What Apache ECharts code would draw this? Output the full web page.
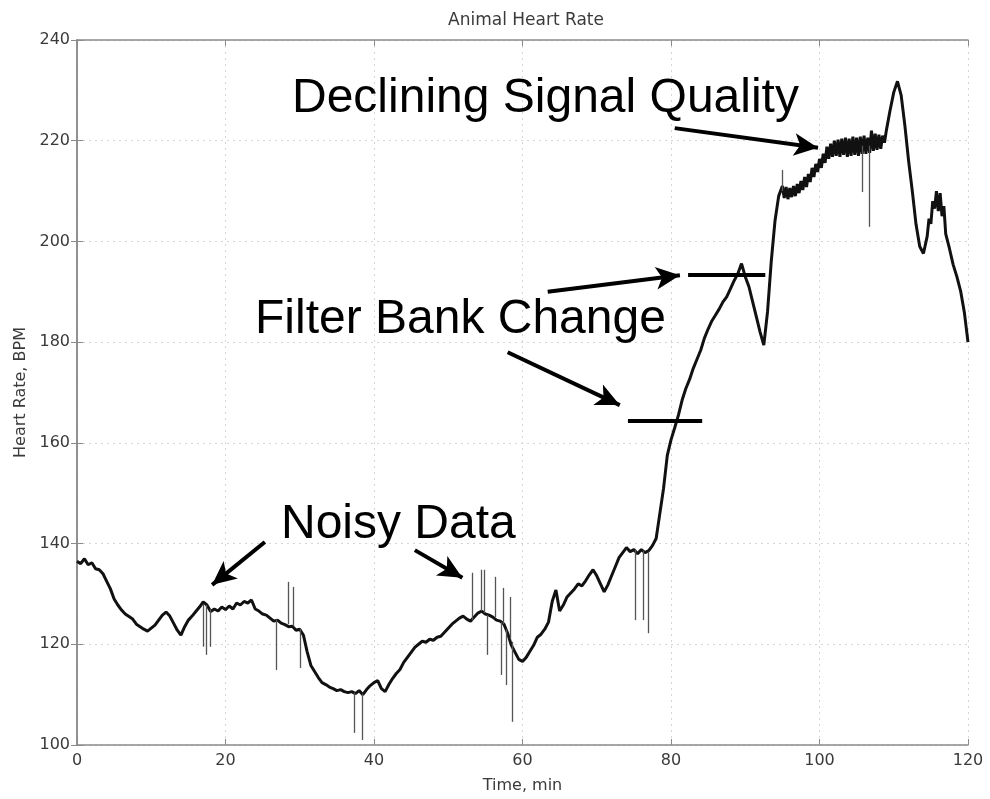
<!DOCTYPE html>
<html>
<head>
<meta charset="utf-8">
<script src="https://cdn.jsdelivr.net/npm/echarts@6/dist/echarts.min.js"></script>
<style>
html,body{margin:0;padding:0;background:#fff;}
#chart{width:990px;height:799px;}
</style>
</head>
<body>
<div id="chart"></div>
<script>
// ---- data ----
var timeMin = [0,0.5,1,1.5,2,2.5,3,3.5,4,4.5,5,5.5,6,6.5,7,7.5,8,8.5,9,9.5,10,10.5,11,11.5,12,12.5,13,13.5,14,14.5,15,15.5,16,16.5,17,17.5,18,18.5,19,19.5,20,20.5,21,21.5,22,22.5,23,23.5,24,24.5,25,25.5,26,26.5,27,27.5,28,28.5,29,29.5,30,30.5,31,31.5,32,32.5,33,33.5,34,34.5,35,35.5,36,36.5,37,37.5,38,38.5,39,39.5,40,40.5,41,41.5,42,42.5,43,43.5,44,44.5,45,45.5,46,46.5,47,47.5,48,48.5,49,49.5,50,50.5,51,51.5,52,52.5,53,53.5,54,54.5,55,55.5,56,56.5,57,57.5,58,58.5,59,59.5,60,60.5,61,61.5,62,62.5,63,63.5,64,64.5,65,65.5,66,66.5,67,67.5,68,68.5,69,69.5,70,70.5,71,71.5,72,72.5,73,73.5,74,74.5,75,75.5,76,76.5,77,77.5,78,78.5,79,79.5,80,80.5,81,81.5,82,82.5,83,83.5,84,84.5,85,85.5,86,86.5,87,87.5,88,88.5,89,89.5,90,90.5,91,91.5,92,92.5,93,93.5,94,94.5,
  95,95.25,95.5,95.75,96,96.25,96.5,96.75,97,97.25,97.5,97.75,98,98.25,98.5,98.75,99,99.25,99.5,99.75,100,100.25,100.5,100.75,101,101.25,101.5,101.75,102,102.25,102.5,102.75,103,103.25,103.5,103.75,104,104.25,104.5,104.75,105,105.25,105.5,105.75,106,106.25,106.5,106.75,107,107.25,107.5,107.75,108,108.25,108.5,108.75,109,
  109.5,110,110.5,111,111.5,112,112.5,113,113.5,114,
  114.5,114.75,115,115.25,115.5,115.75,116,116.25,116.5,116.75,117,
  117.5,118,118.5,119,119.5,120];
var heartRate = [136.5,136.0,137.0,135.8,136.2,135.0,134.8,134.0,132.5,131.0,129.0,127.8,126.8,126.0,125.5,125.0,124.0,123.5,123.0,122.6,123.2,123.8,124.8,125.8,126.4,125.6,124.2,122.8,121.8,123.5,124.8,125.6,126.5,127.4,128.4,127.8,126.5,127.0,126.6,127.4,126.9,127.6,127.0,128.2,127.8,128.5,128.2,128.8,127.0,126.6,126.0,125.8,125.2,124.6,124.8,124.2,123.9,123.5,123.6,122.8,123.0,121.8,118.5,115.8,114.6,113.4,112.4,112.0,111.5,111.2,110.8,111.0,110.6,110.4,110.6,110.2,110.8,110.0,111.0,111.8,112.4,112.8,111.2,110.6,112.0,113.2,114.2,115.0,116.4,117.4,118.4,119.4,120.0,120.6,120.4,121.0,120.8,121.4,121.6,122.4,123.2,124.0,124.6,125.2,125.6,125.0,124.6,125.4,126.2,126.6,126.0,125.8,125.4,124.8,124.6,124.0,122.2,119.8,118.4,117.0,116.6,117.4,118.6,119.8,121.4,122.0,123.0,124.4,128.5,130.8,126.6,127.8,129.4,130.2,131.0,132.0,131.6,132.6,133.8,134.8,133.6,132.0,130.4,131.8,133.6,135.4,137.2,138.2,139.2,138.4,138.8,138.0,138.8,138.2,138.6,139.6,141.0,146.0,151.0,157.5,160.6,163.0,165.5,168.5,170.8,172.6,174.8,176.6,178.4,180.8,182.6,184.2,185.4,186.6,188.0,189.0,190.6,192.2,193.6,195.6,193.0,191.0,188.0,185.0,182.0,179.4,186.0,196.0,204.0,209.0,
  211.0,208.6,210.8,208.4,210.6,208.8,211.0,209.0,211.4,209.6,212.0,210.2,212.8,210.8,213.4,211.8,214.6,212.8,215.4,213.8,216.4,214.6,217.4,215.6,218.8,216.4,219.4,216.8,220.0,217.0,220.2,216.8,220.4,217.2,220.6,216.8,220.4,217.0,220.8,217.2,220.6,217.0,220.8,217.4,221.0,217.4,220.6,217.6,222.0,218.0,221.4,218.2,221.2,218.4,221.0,219.6,222.0,
  226.0,229.6,231.8,229.0,223.0,216.0,210.0,203.4,199.0,197.6,
  201.0,204.5,203.5,208.0,206.5,210.0,206.0,209.6,205.0,207.0,201.5,
  198.6,195.4,193.0,190.2,186.0,180.0];
// brief artefact spikes (time, level before spike, spike tip)
var spikeTime = [17.0,17.4,17.9,26.9,28.4,29.1,30.0,37.4,38.4,53.2,54.5,54.9,55.2,56.3,57.1,57.4,57.8,58.3,58.6,75.2,76.2,76.9,95.0,105.7,106.7];
var spikeBase = [128.0,127.8,127.0,125.0,124.0,123.6,123.0,110.4,110.2,124.8,126.6,126.2,125.8,125.4,124.4,124.0,123.0,121.0,120.5,138.8,138.6,138.4,210.0,219.0,219.0];
var spikeTip  = [119.5,117.9,119.5,114.9,132.4,131.4,115.3,102.4,101.0,134.2,134.8,134.8,117.9,133.4,113.9,131.2,111.9,129.4,104.6,124.8,124.8,122.2,214.2,209.8,202.9];
var xTicks = [0,20,40,60,80,100,120];
var yTicks = [100,120,140,160,180,200,220,240];

// annotation arrows and bars (time, BPM)
var arrowFrom = [[80.5,222.5],[63.4,190.0],[58.0,178.0],[25.3,140.3],[45.5,138.7]];
var arrowTo   = [[99.8,218.6],[81.2,193.3],[73.1,167.5],[18.2,131.8],[51.9,133.2]];
var barFrom = [[82.3,193.3],[74.2,164.3]];
var barTo   = [[92.7,193.3],[84.2,164.3]];

var mainData = timeMin.map(function(t,i){return [t, heartRate[i]];});
var spikeLines = spikeTime.map(function(t,i){return [{coord:[t,spikeBase[i]]},{coord:[t,spikeTip[i]]}];});
var arrowLines = arrowFrom.map(function(p,i){return [{coord:p},{coord:arrowTo[i]}];});
var barLines = barFrom.map(function(p,i){return [{coord:p},{coord:barTo[i]}];});

var BIG = '"Liberation Sans", Arial, Helvetica, sans-serif';
var SMALL = '"DejaVu Sans", Verdana, sans-serif';
var axisCol = '#8a8a8a';
var txtCol = '#3a3a3a';

var chart = echarts.init(document.getElementById('chart'), null, {renderer:'canvas'});
chart.setOption({
  animation:false,
  backgroundColor:'#fff',
  title:{text:'Animal Heart Rate', left:521, textAlign:'center', top:7,
    textStyle:{fontFamily:SMALL, fontSize:17, fontWeight:'normal', color:txtCol}},
  grid:{left:77, right:22, top:40, bottom:54},
  xAxis:[{
    type:'value', min:xTicks[0], max:xTicks[xTicks.length-1], interval:20,
    name:'Time, min', nameLocation:'middle', nameGap:33,
    nameTextStyle:{fontFamily:SMALL, fontSize:16, color:txtCol},
    axisLine:{show:true, lineStyle:{color:axisCol, width:1.5}},
    axisTick:{show:true, inside:true, length:6, lineStyle:{color:axisCol}},
    axisLabel:{fontFamily:SMALL, fontSize:16, color:txtCol, margin:8},
    splitLine:{show:true, lineStyle:{color:'#d6d6d6', type:[2,4], width:1}}
  },{
    type:'value', position:'top', min:0, max:120, interval:20,
    axisLine:{show:true, lineStyle:{color:axisCol, width:1.5}},
    axisTick:{show:true, inside:true, length:6, lineStyle:{color:axisCol}},
    axisLabel:{show:false}, splitLine:{show:false}
  }],
  yAxis:[{
    type:'value', min:yTicks[0], max:yTicks[yTicks.length-1], interval:20,
    name:'Heart Rate, BPM', nameLocation:'middle', nameGap:48, nameRotate:90,
    nameTextStyle:{fontFamily:SMALL, fontSize:16, color:txtCol},
    axisLine:{show:true, lineStyle:{color:axisCol, width:1.5}},
    axisTick:{show:true, inside:true, length:6, lineStyle:{color:axisCol}},
    axisLabel:{fontFamily:SMALL, fontSize:16, color:txtCol, margin:7},
    splitLine:{show:true, lineStyle:{color:'#d6d6d6', type:[2,4], width:1}}
  },{
    type:'value', position:'right', min:100, max:240, interval:20,
    axisLine:{show:true, lineStyle:{color:axisCol, width:1.5}},
    axisTick:{show:true, inside:true, length:6, lineStyle:{color:axisCol}},
    axisLabel:{show:false}, splitLine:{show:false}
  }],
  series:[
    {
      name:'spikes', type:'line', data:[], silent:true,
      markLine:{silent:true, symbol:['none','none'], animation:false,
        label:{show:false},
        lineStyle:{color:'#555', width:1.3, type:'solid'},
        emphasis:{disabled:true},
        data:spikeLines}
    },
    {
      name:'Heart Rate', type:'line', data:mainData, showSymbol:false, symbol:'none',
      lineStyle:{color:'#111', width:3}, silent:true, z:3
    },
    {
      name:'annotations', type:'line', data:[], silent:true, z:5,
      markLine:{silent:true, symbol:['none','arrow'], symbolSize:[17,24], animation:false,
        label:{show:false}, emphasis:{disabled:true},
        lineStyle:{color:'#000', width:4, type:'solid'},
        data:arrowLines}
    },
    {
      name:'bars', type:'line', data:[], silent:true, z:5,
      markLine:{silent:true, symbol:['none','none'], animation:false,
        label:{show:false}, emphasis:{disabled:true},
        lineStyle:{color:'#000', width:4, type:'solid'},
        data:barLines}
    }
  ],
  graphic:[
    {type:'text', left:292, top:75, silent:true, z:10,
      style:{text:'Declining Signal Quality', font:'48px '+BIG, fill:'#000'}},
    {type:'text', left:255, top:296, silent:true, z:10,
      style:{text:'Filter Bank Change', font:'48px '+BIG, fill:'#000'}},
    {type:'text', left:281, top:501, silent:true, z:10,
      style:{text:'Noisy Data', font:'48px '+BIG, fill:'#000'}}
  ]
});
</script>
</body>
</html>
